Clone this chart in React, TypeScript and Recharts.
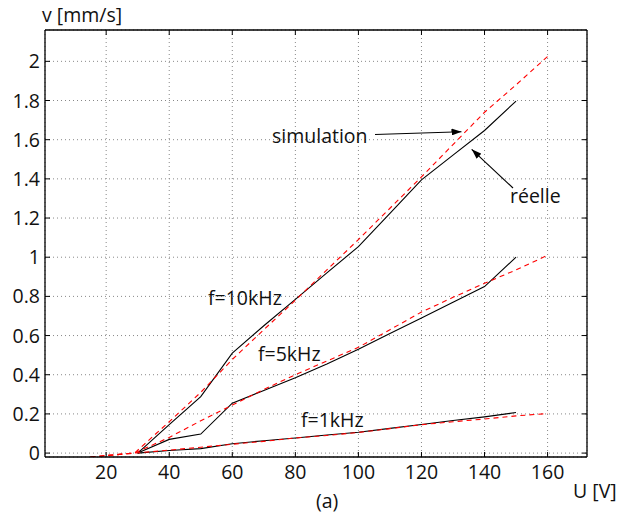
import { LineChart, Line, XAxis, YAxis, CartesianGrid } from 'recharts';

document.body.style.margin = '0';

const uTicks = [20, 40, 60, 80, 100, 120, 140, 160];
const vTicks = [0, 0.2, 0.4, 0.6, 0.8, 1, 1.2, 1.4, 1.6, 1.8, 2];

// measured (réelle)
const uReal = [30, 40, 50, 60, 70, 80, 90, 100, 110, 120, 130, 140, 150];
const vReal10 = [0, 0.145, 0.288, 0.51, 0.65, 0.785, 0.92, 1.054, 1.224, 1.395, 1.521, 1.647, 1.797];
const vReal5 = [0, 0.07, 0.097, 0.255, 0.32, 0.385, 0.455, 0.53, 0.61, 0.69, 0.77, 0.85, 1.0];
const vReal1 = [0, 0.013, 0.023, 0.048, 0.063, 0.077, 0.092, 0.106, 0.126, 0.146, 0.166, 0.185, 0.207];

// simulation
const uSim = [15, 29, 40, 50, 60, 70, 80, 90, 100, 110, 120, 130, 140, 150, 160];
const vSim10 = [-0.02, 0, 0.16, 0.31, 0.478, 0.63, 0.78, 0.935, 1.09, 1.25, 1.41, 1.575, 1.74, 1.88, 2.025];
const vSim5 = [-0.02, 0, 0.08, 0.165, 0.245, 0.325, 0.4, 0.47, 0.54, 0.63, 0.72, 0.795, 0.867, 0.935, 1.01];
const vSim1 = [-0.02, 0, 0.015, 0.03, 0.045, 0.06, 0.077, 0.09, 0.105, 0.125, 0.145, 0.16, 0.174, 0.19, 0.202];

const zip = (us: number[], vs: number[]) => us.map((u, i) => ({ u, v: vs[i] }));

const font = { fontFamily: '"Open Sans", sans-serif', fontSize: 19.5, fill: '#111' };

const BottomTick = ({ x, y, payload }: any) => (
  <g>
    <line x1={x} y1={y} x2={x} y2={y - 5} stroke="#000" />
    <text x={x} y={y + 22} textAnchor="middle" {...font}>{payload.value}</text>
  </g>
);
const TopTick = ({ x, y }: any) => <line x1={x} y1={y} x2={x} y2={y + 5} stroke="#000" />;
const LeftTick = ({ x, y, payload }: any) => (
  <g>
    <line x1={x} y1={y} x2={x + 5} y2={y} stroke="#000" />
    <text x={x - 5} y={y + 7} textAnchor="end" {...font}>{payload.value}</text>
  </g>
);
const RightTick = ({ x, y }: any) => <line x1={x} y1={y} x2={x - 5} y2={y} stroke="#000" />;

export default function App() {
  return (
    <div style={{ position: 'relative', width: 617, height: 519, background: '#fff' }}>
      <LineChart width={617} height={519} margin={{ top: 0, right: 0, bottom: 0, left: 0 }}>
        <CartesianGrid stroke="#888" strokeDasharray="1 3" />
        <XAxis dataKey="u" type="number" domain={[0.6, 172.5]} ticks={uTicks} allowDataOverflow
          height={62} stroke="#000" strokeWidth={1.3} tickLine={false} tickSize={0} tickMargin={0} tick={<BottomTick />} />
        <XAxis xAxisId="top" orientation="top" dataKey="u" type="number" domain={[0.6, 172.5]} ticks={uTicks} allowDataOverflow
          height={30} stroke="#000" strokeWidth={1.3} tickLine={false} tickSize={0} tickMargin={0} tick={<TopTick />} />
        <YAxis type="number" domain={[-0.02, 2.16]} ticks={vTicks} allowDataOverflow
          width={45} stroke="#000" strokeWidth={1.3} tickLine={false} tickSize={0} tickMargin={0} tick={<LeftTick />} />
        <YAxis yAxisId="right" orientation="right" type="number" domain={[-0.02, 2.16]} ticks={vTicks} allowDataOverflow
          width={30} stroke="#000" strokeWidth={1.3} tickLine={false} tickSize={0} tickMargin={0} tick={<RightTick />} />
        <Line data={zip(uReal, vReal10)} dataKey="v" stroke="#000" strokeWidth={1.1} dot={false} isAnimationActive={false} />
        <Line data={zip(uReal, vReal5)} dataKey="v" stroke="#000" strokeWidth={1.1} dot={false} isAnimationActive={false} />
        <Line data={zip(uReal, vReal1)} dataKey="v" stroke="#000" strokeWidth={1.1} dot={false} isAnimationActive={false} />
        <Line data={zip(uSim, vSim10)} dataKey="v" stroke="#ff0000" strokeWidth={1.1} strokeDasharray="5 4" dot={false} isAnimationActive={false} />
        <Line data={zip(uSim, vSim5)} dataKey="v" stroke="#ff0000" strokeWidth={1.1} strokeDasharray="5 4" dot={false} isAnimationActive={false} />
        <Line data={zip(uSim, vSim1)} dataKey="v" stroke="#ff0000" strokeWidth={1.1} strokeDasharray="5 4" dot={false} isAnimationActive={false} />
      </LineChart>
      <svg width={617} height={519} style={{ position: 'absolute', left: 0, top: 0, pointerEvents: 'none' }}>
        <defs>
          <marker id="head" markerWidth="10" markerHeight="7" refX="10" refY="3.5" orient="auto" markerUnits="userSpaceOnUse">
            <path d="M0,0 L10,3.5 L0,7 Z" fill="#000" />
          </marker>
        </defs>
        <text x={42} y={22} {...font}>v [mm/s]</text>
        <text x={573} y={498} {...font}>U [V]</text>
        <text x={316} y={508} {...font}>(a)</text>
        <text x={272} y={143} {...font}>simulation</text>
        <line x1={375} y1={134.5} x2={461.5} y2={131.7} stroke="#000" strokeWidth={1.1} markerEnd="url(#head)" />
        <text x={510} y={203} {...font}>réelle</text>
        <line x1={513} y1={188} x2={471.7} y2={149.3} stroke="#000" strokeWidth={1.1} markerEnd="url(#head)" />
        <text x={208} y={305} {...font}>f=10kHz</text>
        <text x={258} y={361} {...font}>f=5kHz</text>
        <text x={301} y={427} {...font}>f=1kHz</text>
      </svg>
    </div>
  );
}
